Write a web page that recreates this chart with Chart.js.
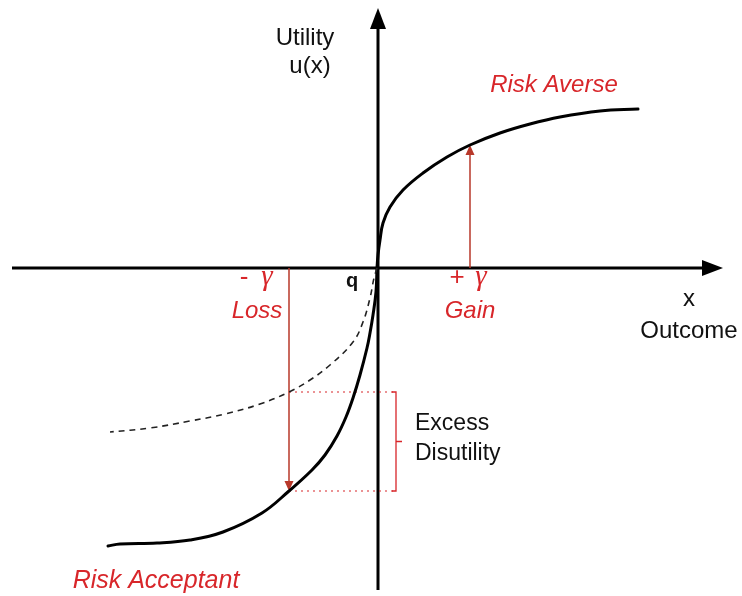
<!DOCTYPE html>
<html>
<head>
<meta charset="utf-8">
<script src="https://cdn.jsdelivr.net/npm/chart.js@4/dist/chart.umd.min.js"></script>
<style>
  html, body { margin: 0; padding: 0; background: #fff; }
  #wrap { width: 742px; height: 596px; }
</style>
</head>
<body>
<div id="wrap"><canvas id="canvas-1" width="742" height="596"></canvas></div>
<script>
// outcome (x) and utility u(x) for the gain side, concave
const gainX = [0, 0.01, 0.03, 0.06, 0.13, 0.26, 0.46, 0.70, 0.93, 1.23, 1.53, 1.83, 2.23, 2.61];
const gainU = [0, 0.13, 0.28, 0.45, 0.61, 0.78, 0.95, 1.11, 1.23, 1.35, 1.44, 1.51, 1.57, 1.59];

// loss side, convex (risk acceptant)
const lossX = [0, -0.01, -0.04, -0.07, -0.10, -0.17, -0.24, -0.31, -0.40, -0.52, -0.65, -0.88, -1.15, -1.54, -1.87, -2.20, -2.57, -2.69];
const lossU = [0, -0.24, -0.47, -0.65, -0.80, -1.07, -1.30, -1.49, -1.68, -1.87, -2.02, -2.23, -2.45, -2.64, -2.72, -2.75, -2.76, -2.78];

// mirrored risk-averse curve on the loss side (dashed)
const mirrorX = [0, -0.03, -0.07, -0.14, -0.24, -0.47, -0.67, -0.88, -1.17, -1.52, -1.87, -2.27, -2.67];
const mirrorU = [0, -0.10, -0.30, -0.54, -0.74, -0.97, -1.12, -1.24, -1.36, -1.46, -1.53, -1.60, -1.64];

// +gamma / -gamma outcomes and the utilities they reach
const gammaGain = 0.93;
const gammaLoss = -0.88;
const uGain = 1.23;
const uLoss = -2.23;
const uMirror = -1.24;

const red = "#d8262a";
const arrowRed = "#b8382a";

const toPoints = (xs, ys) => xs.map((x, i) => ({ x: x, y: ys[i] }));

function arrowHead(ctx, x, y, dx, dy, len, half, color) {
  const n = Math.hypot(dx, dy);
  const ux = dx / n, uy = dy / n;
  ctx.beginPath();
  ctx.moveTo(x, y);
  ctx.lineTo(x - ux * len - uy * half, y - uy * len + ux * half);
  ctx.lineTo(x - ux * len + uy * half, y - uy * len - ux * half);
  ctx.closePath();
  ctx.fillStyle = color;
  ctx.fill();
}

const diagram = {
  id: "diagram",
  beforeDatasetsDraw(chart) {
    const { ctx, scales: { x, y } } = chart;
    const px = (v) => x.getPixelForValue(v);
    const py = (v) => y.getPixelForValue(v);
    ctx.save();

    // axes
    ctx.strokeStyle = "#000";
    ctx.lineWidth = 3;
    ctx.beginPath();
    ctx.moveTo(px(-3.65), py(0));
    ctx.lineTo(px(3.28), py(0));
    ctx.moveTo(px(0.01), py(-3.22));
    ctx.lineTo(px(0.01), py(2.42));
    ctx.stroke();
    arrowHead(ctx, px(3.46), py(0), 1, 0, 21, 8, "#000");
    arrowHead(ctx, px(0.01), py(2.60), 0, -1, 21, 8, "#000");

    // dotted guides for excess disutility
    ctx.strokeStyle = red;
    ctx.lineWidth = 1.2;
    ctx.setLineDash([2, 4]);
    ctx.beginPath();
    ctx.moveTo(px(gammaLoss), py(uMirror));
    ctx.lineTo(px(0.16), py(uMirror));
    ctx.moveTo(px(gammaLoss), py(uLoss));
    ctx.lineTo(px(0.16), py(uLoss));
    ctx.stroke();
    ctx.setLineDash([]);

    // bracket
    const bx = px(0.19);
    const mid = py((uMirror + uLoss) / 2);
    ctx.lineWidth = 1.3;
    ctx.beginPath();
    ctx.moveTo(px(0.15), py(uMirror));
    ctx.lineTo(bx, py(uMirror));
    ctx.lineTo(bx, py(uLoss));
    ctx.lineTo(px(0.15), py(uLoss));
    ctx.moveTo(bx, mid);
    ctx.lineTo(px(0.25), mid);
    ctx.stroke();

    // gamma arrows
    ctx.strokeStyle = arrowRed;
    ctx.lineWidth = 1.5;
    ctx.beginPath();
    ctx.moveTo(px(gammaGain), py(0));
    ctx.lineTo(px(gammaGain), py(uGain) + 8);
    ctx.moveTo(px(gammaLoss), py(0));
    ctx.lineTo(px(gammaLoss), py(uLoss) - 8);
    ctx.stroke();
    arrowHead(ctx, px(gammaGain), py(uGain), 0, -1, 10, 4.5, arrowRed);
    arrowHead(ctx, px(gammaLoss), py(uLoss), 0, 1, 10, 4.5, arrowRed);
    ctx.restore();
  },
  afterDatasetsDraw(chart) {
    const { ctx, scales: { x, y } } = chart;
    const px = (v) => x.getPixelForValue(v);
    const py = (v) => y.getPixelForValue(v);
    const text = (s, vx, vy, font, color, align) => {
      ctx.font = font;
      ctx.fillStyle = color;
      ctx.textAlign = align || "center";
      ctx.textBaseline = "alphabetic";
      ctx.fillText(s, px(vx), py(vy));
    };
    ctx.save();
    const sans = '"Liberation Sans", Arial, sans-serif';
    const serif = '"Liberation Serif", "Times New Roman", serif';
    text("Utility", -0.72, 2.23, "24px " + sans, "#111");
    text("u(x)", -0.67, 1.95, "24px " + sans, "#111");
    text("x", 3.12, -0.38, "24px " + sans, "#111");
    text("Outcome", 3.12, -0.70, "24px " + sans, "#111");
    text("q", -0.25, -0.19, "bold 20px " + sans, "#111");
    text("-", -1.33, -0.17, "26px " + sans, red);
    text("\u03B3", -1.10, -0.17, "italic 29px " + serif, red);
    text("Loss", -1.20, -0.50, "italic 24px " + sans, red);
    text("+", 0.80, -0.17, "26px " + sans, red);
    text("\u03B3", 1.04, -0.17, "italic 29px " + serif, red);
    text("Gain", 0.93, -0.50, "italic 24px " + sans, red);
    text("Risk Averse", 1.77, 1.76, "italic 24px " + sans, red);
    text("Risk Acceptant", -2.21, -3.20, "italic 25px " + sans, red);
    text("Excess", 0.38, -1.62, "23px " + sans, "#111", "left");
    text("Disutility", 0.38, -1.92, "23px " + sans, "#111", "left");
    ctx.restore();
  },
};

const ctx1 = document.querySelector("#canvas-1").getContext("2d");

const curve = (label, xs, ys, extra) => Object.assign({
  label: label,
  data: toPoints(xs, ys),
  showLine: true,
  borderColor: "#000",
  borderWidth: 3,
  borderCapStyle: "round",
  pointRadius: 0,
  tension: 0.4,
}, extra);

const utilityChart = new Chart(ctx1, {
  type: "scatter",
  data: {
    datasets: [
      curve("Mirrored", mirrorX, mirrorU, { borderColor: "#222", borderWidth: 1.6, borderDash: [6, 5], borderCapStyle: "butt" }),
      curve("Gain", gainX, gainU),
      curve("Loss", lossX, lossU),
    ],
  },
  options: {
    responsive: false,
    animation: false,
    layout: { padding: 0 },
    plugins: { legend: { display: false }, tooltip: { enabled: false } },
    scales: {
      x: { type: "linear", min: -3.77, max: 3.65, display: false },
      y: { type: "linear", min: -3.28, max: 2.68, display: false },
    },
  },
  plugins: [diagram],
});
</script>
</body>
</html>
